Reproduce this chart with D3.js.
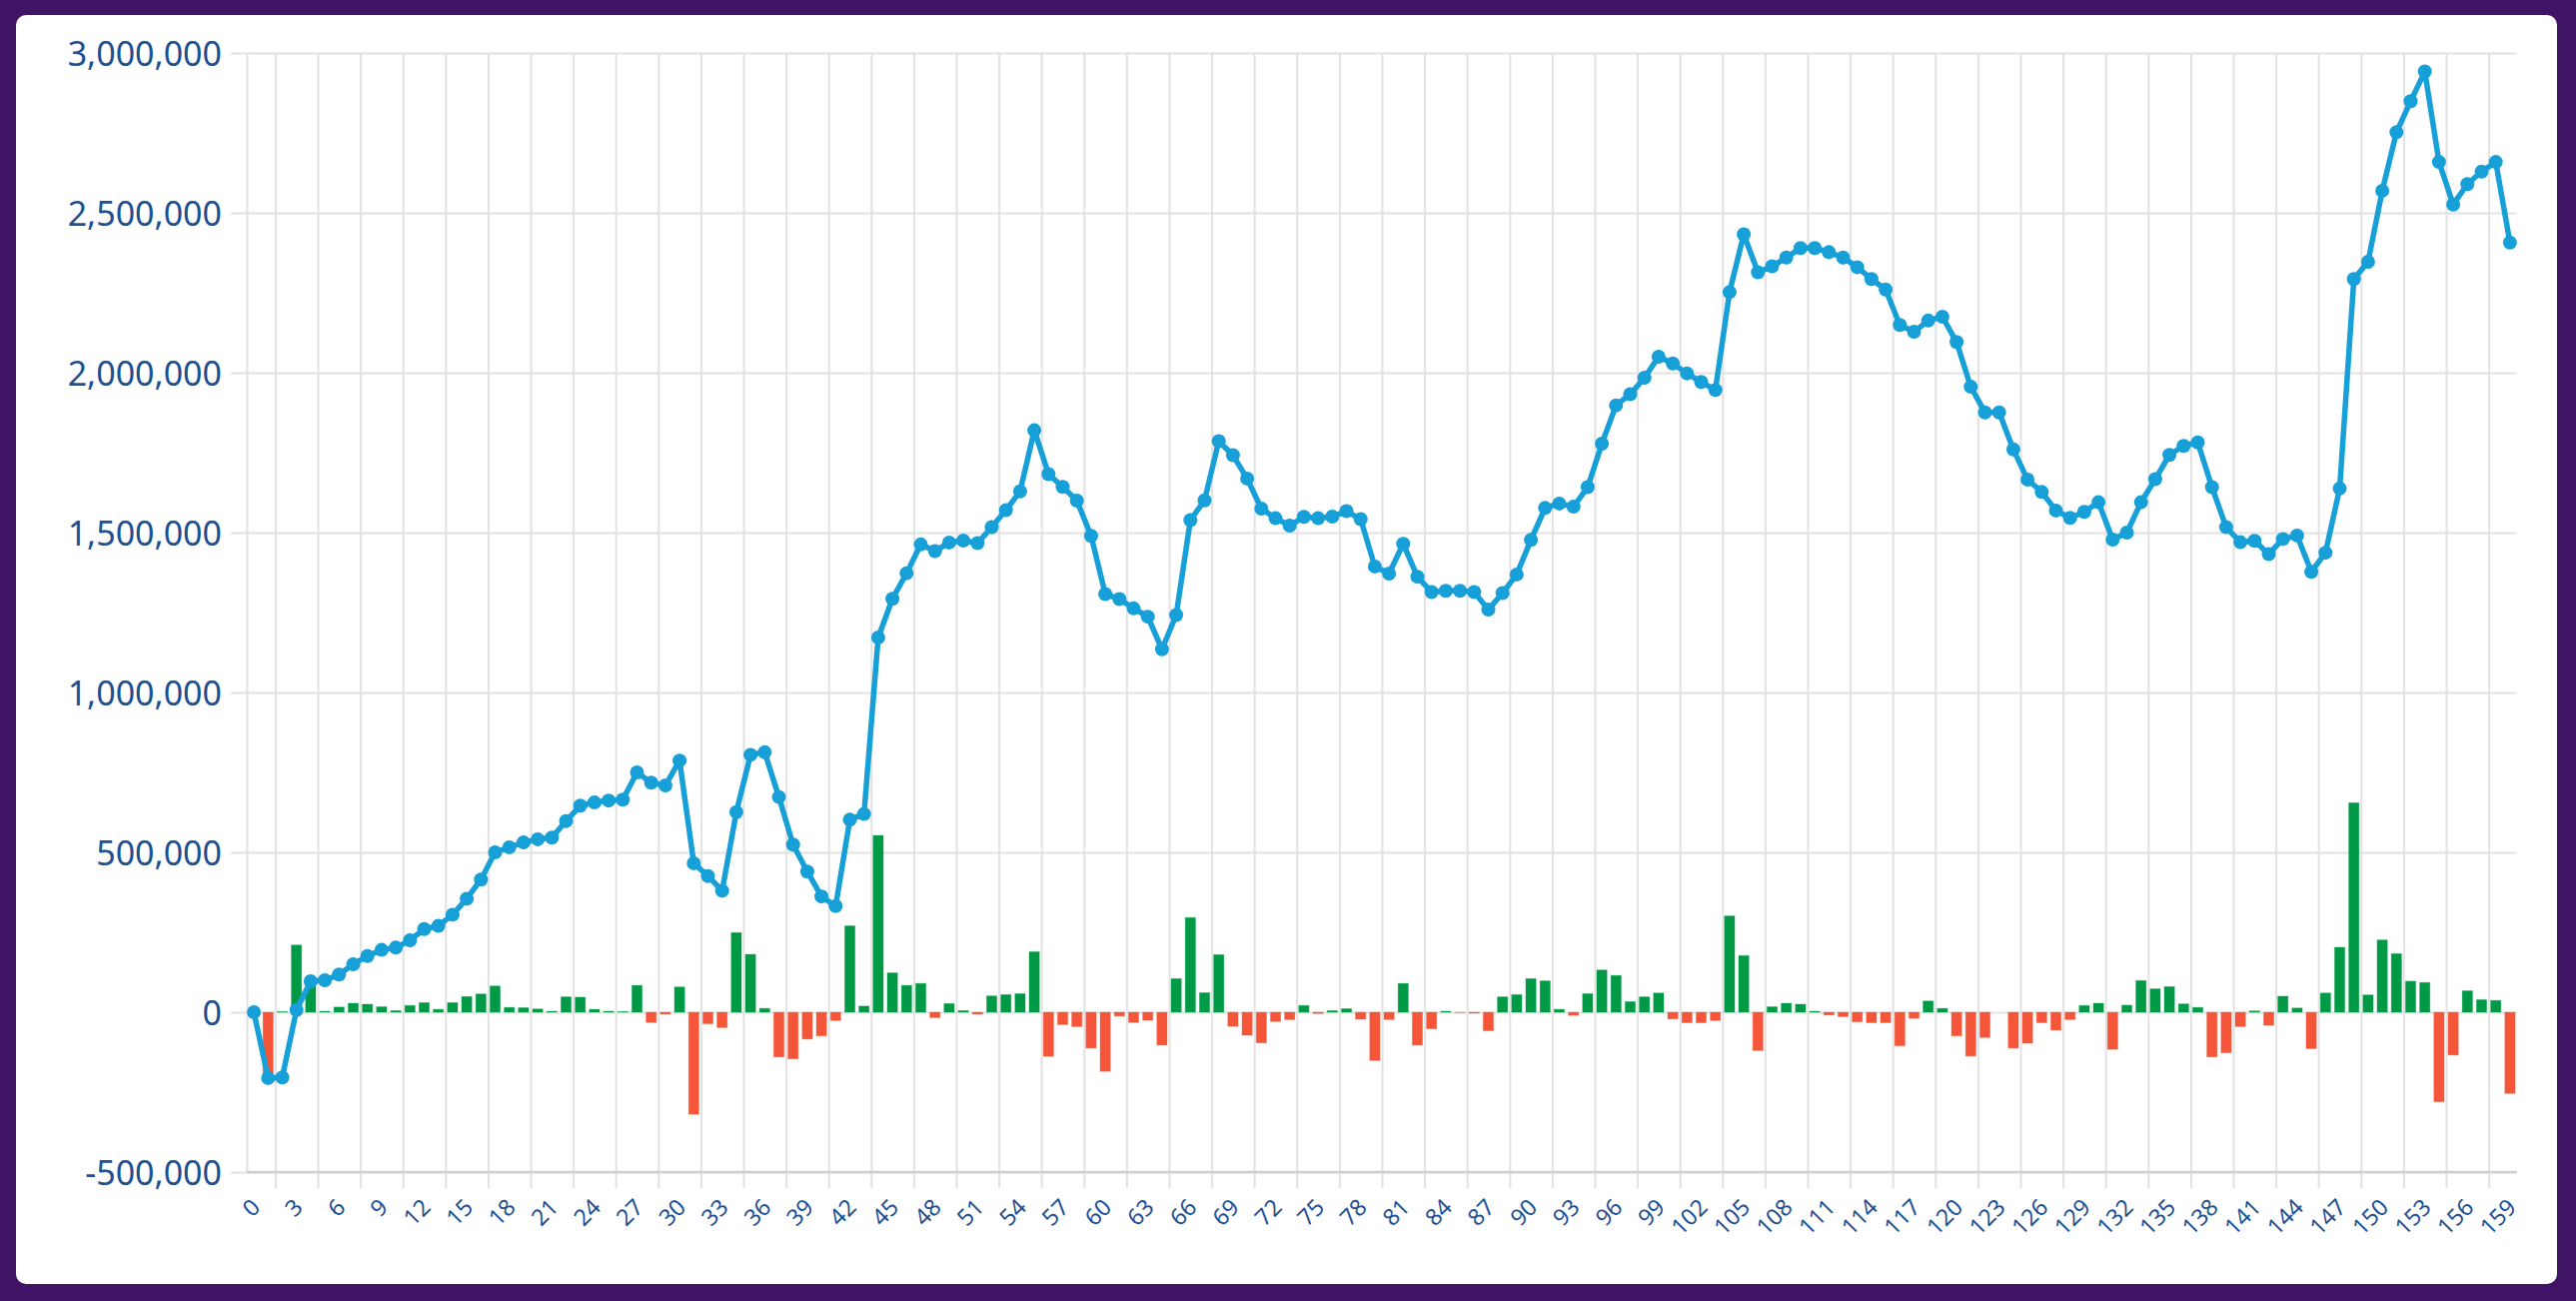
<!DOCTYPE html>
<html>
<head>
<meta charset="utf-8">
<script src="https://cdn.jsdelivr.net/npm/d3@7"></script>
<style>
  html, body { margin: 0; padding: 0; background: #401464; }
  #chart svg { display: block; }
  .ylab text, .xlab text { fill: #1e5092; font-family: "Noto Sans", "Liberation Sans", sans-serif; }
</style>
</head>
<body>
<div id="chart"></div>
<script>
// one entry per period, 0..159
let categories = d3.range(160);

// running balance (line)
let balance = [0,-206000,-204000,7000,97000,100000,118000,150000,176000,195000,
202000,225000,260000,270000,305000,355000,415000,500000,516000,531000,
541000,546000,598000,646000,656000,662000,665000,750000,718000,709000,
787000,466000,426000,380000,626000,805000,813000,673000,524000,440000,
362000,332000,602000,620000,1172000,1293000,1373000,1463000,1442000,1469000,
1475000,1467000,1517000,1570000,1629000,1820000,1683000,1643000,1600000,1490000,
1308000,1292000,1263000,1237000,1135000,1242000,1539000,1601000,1786000,1742000,
1669000,1575000,1545000,1522000,1549000,1545000,1550000,1567000,1542000,1394000,
1372000,1465000,1362000,1314000,1318000,1318000,1314000,1259000,1311000,1369000,
1477000,1577000,1591000,1581000,1642000,1778000,1898000,1933000,1984000,2050000,
2029000,1998000,1971000,1946000,2252000,2433000,2314000,2333000,2360000,2390000,
2390000,2377000,2360000,2330000,2293000,2260000,2149000,2128000,2163000,2175000,
2096000,1956000,1876000,1876000,1760000,1666000,1627000,1569000,1546000,1565000,
1595000,1478000,1500000,1595000,1667000,1743000,1771000,1782000,1642000,1517000,
1470000,1474000,1433000,1480000,1491000,1377000,1437000,1638000,2293000,2347000,
2569000,2752000,2849000,2942000,2659000,2526000,2590000,2629000,2659000,2407000];

// change per period (bars)
let change = [0,-206000,2000,210000,94000,3000,16000,28000,25000,17000,
5000,21000,30000,9000,30000,49000,57000,82000,15000,14000,
10000,3000,48000,47000,9000,3000,2000,84000,-32000,-6000,
79000,-319000,-36000,-48000,249000,181000,12000,-140000,-146000,-84000,
-74000,-26000,270000,19000,553000,123000,84000,90000,-17000,27000,
5000,-6000,51000,55000,58000,189000,-138000,-39000,-45000,-112000,
-185000,-12000,-32000,-25000,-103000,105000,296000,61000,180000,-44000,
-72000,-96000,-29000,-23000,21000,-4000,5000,11000,-22000,-151000,
-23000,90000,-103000,-52000,3000,-1000,-3000,-58000,48000,55000,
105000,98000,9000,-10000,58000,132000,115000,33000,48000,60000,
-21000,-33000,-33000,-26000,301000,177000,-120000,17000,28000,25000,
3000,-9000,-14000,-30000,-33000,-33000,-105000,-19000,35000,12000,
-74000,-137000,-79000,0,-112000,-97000,-33000,-56000,-23000,21000,
28000,-116000,22000,99000,73000,80000,26000,15000,-140000,-127000,
-45000,4000,-41000,50000,13000,-114000,60000,203000,655000,54000,
226000,183000,97000,93000,-280000,-134000,67000,39000,37000,-254000];

let yTicks = [-500000,0,500000,1000000,1500000,2000000,2500000,3000000];
let xTickLabels = d3.range(0, 160, 3);

let width = 2578, height = 1302;
let plotLeft = 247, plotRight = 2519, plotTop = 53, plotBottom = 1173;
let gridColor = '#e2e2e2';
let lineColor = '#179fd8';
let green = '#009a46', red = '#f5563a';

// plain hyphen for negatives, like the original
const fmt = d3.formatLocale({decimal: '.', thousands: ',', grouping: [3], currency: ['', ''], minus: '-'}).format(',');

let svg = d3.select('#chart').append('svg')
  .attr('width', width)
  .attr('height', height);

svg.append('rect')
  .attr('x', 0).attr('y', 0).attr('width', width).attr('height', height)
  .attr('fill', '#401464');
svg.append('rect')
  .attr('x', 16).attr('y', 15).attr('width', 2543).attr('height', 1270)
  .attr('rx', 10)
  .attr('fill', '#ffffff');

const x = d3.scaleBand().domain(categories).range([plotLeft, plotRight]).padding(0);
const xEdge = d3.scaleLinear().domain([0, categories.length]).range([plotLeft, plotRight]);
const y = d3.scaleLinear().domain([-500000, 3000000]).range([plotBottom, plotTop]);
const bw = x.bandwidth();

// horizontal grid + y labels
const yAxis = svg.append('g')
  .attr('class', 'ylab')
  .attr('transform', 'translate(' + plotRight + ',0)')
  .call(d3.axisLeft(y).tickValues(yTicks).tickFormat(fmt).tickSize(plotRight - plotLeft + 16).tickPadding(9));
yAxis.select('.domain').remove();
yAxis.selectAll('line').attr('stroke', gridColor).attr('stroke-width', 2);
yAxis.selectAll('text').attr('font-size', 34).attr('dy', '0.36em');

// vertical grid, offset between the shown labels
const xGrid = svg.append('g')
  .attr('transform', 'translate(0,' + (plotBottom + 16) + ')')
  .call(d3.axisBottom(xEdge).tickValues([0].concat(d3.range(2, 160, 3))).tickSize(-(plotBottom + 16 - plotTop)).tickFormat(''));
xGrid.select('.domain').remove();
xGrid.selectAll('line').attr('stroke', gridColor).attr('stroke-width', 2);
xGrid.selectAll('.tick').filter(d => d === 0).select('line').attr('y1', -16);

// x labels
const xAxis = svg.append('g')
  .attr('class', 'xlab')
  .attr('transform', 'translate(0,' + plotBottom + ')')
  .call(d3.axisBottom(x).tickValues(xTickLabels).tickSize(0));
xAxis.select('.domain').remove();
xAxis.selectAll('text')
  .attr('font-size', 23)
  .attr('text-anchor', 'end')
  .attr('x', 0).attr('y', 0).attr('dy', '0.35em')
  .attr('transform', 'translate(2,31) rotate(-45)');

// bottom axis line
svg.append('line')
  .attr('x1', plotLeft).attr('x2', plotRight)
  .attr('y1', plotBottom).attr('y2', plotBottom)
  .attr('stroke', '#cfcfcf').attr('stroke-width', 2.5);

// bars
svg.append('g').selectAll('rect')
  .data(categories)
  .enter()
  .append('rect')
  .attr('x', i => x(i) + bw * 0.14)
  .attr('width', bw * 0.72)
  .attr('y', i => y(Math.max(0, change[i])))
  .attr('height', i => Math.abs(y(change[i]) - y(0)))
  .attr('fill', i => change[i] >= 0 ? green : red)
  .attr('stroke', i => change[i] >= 0 ? 'rgba(0,154,70,0.35)' : 'rgba(245,86,58,0.35)')
  .attr('stroke-width', 1);

// balance line
const line = d3.line()
  .x(i => x(i) + bw / 2)
  .y(i => y(balance[i]));

svg.append('path')
  .datum(categories)
  .attr('fill', 'none')
  .attr('stroke', lineColor)
  .attr('stroke-width', 5.5)
  .attr('stroke-linejoin', 'round')
  .attr('d', line);

svg.append('g').selectAll('circle')
  .data(categories)
  .enter()
  .append('circle')
  .attr('cx', i => x(i) + bw / 2)
  .attr('cy', i => y(balance[i]))
  .attr('r', 7)
  .attr('fill', lineColor);
</script>
</body>
</html>
